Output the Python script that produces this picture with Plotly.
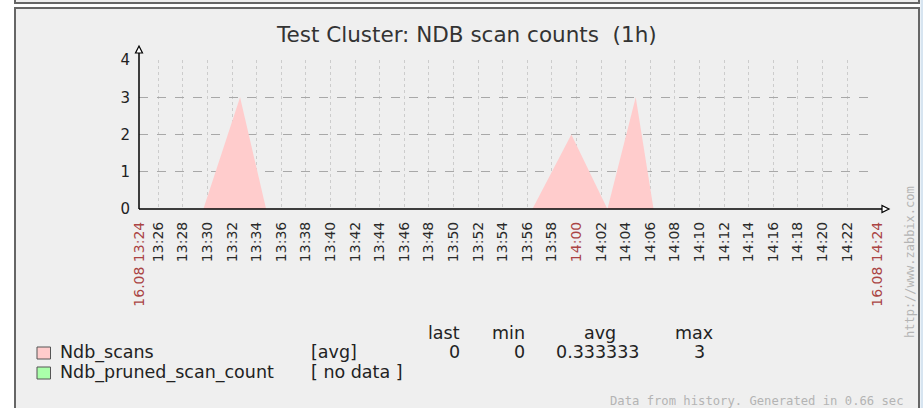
import plotly.graph_objects as go

# ---------------- data ----------------
title_text = "Test Cluster: NDB scan counts  (1h)"
period_start = "2013-08-16 13:24:26"
period_end = "2013-08-16 14:24:26"

scan_times = ["2013-08-16 13:29:40", "2013-08-16 13:32:39", "2013-08-16 13:34:46",
              "2013-08-16 13:56:25", "2013-08-16 13:59:35", "2013-08-16 14:02:31",
              "2013-08-16 14:04:49", "2013-08-16 14:06:16"]
scan_values = [0, 3, 0, 0, 2, 0, 3, 0]

tick_minutes = ["13:26", "13:28", "13:30", "13:32", "13:34", "13:36", "13:38", "13:40",
                "13:42", "13:44", "13:46", "13:48", "13:50", "13:52", "13:54", "13:56",
                "13:58", "14:00", "14:02", "14:04", "14:06", "14:08", "14:10", "14:12",
                "14:14", "14:16", "14:18", "14:20", "14:22"]
edge_labels = ["16.08 13:24", "16.08 14:24"]
main_tick = "14:00"

y_ticks = [0, 1, 2, 3, 4]

series_names = ["Ndb_scans", "Ndb_pruned_scan_count"]
series_colors = ["#ffcccc", "#aaffaa"]
series_func = ["[avg]", "[ no data ]"]
stat_headers = ["last", "min", "avg", "max"]
scan_stats = ["0", "0", "0.333333", "3"]

footer_text = "Data from history. Generated in 0.66 sec"
url_text = "http://www.zabbix.com"

# ---------------- geometry helpers ----------------
W, H = 923, 408
L, R, T, B = 139, 46, 60, 199
PW, PH = W - L - R, H - T - B


def px(x):
    return (x - L) / PW


def py(y):
    return (H - B - y) / PH


RED = "#aa4444"
FONT = "DejaVu Sans"
TXT = "#222222"

tickvals = [period_start] + ["2013-08-16 " + t for t in tick_minutes] + [period_end]
ticktext = ([f'<span style="color:{RED}">{edge_labels[0]}</span>'] +
            [f'<span style="color:{RED}">{t}</span>' if t == main_tick else t for t in tick_minutes] +
            [f'<span style="color:{RED}">{edge_labels[1]}</span>'])

fig = go.Figure()
fig.add_trace(go.Scatter(x=scan_times, y=scan_values, mode="lines", fill="tozeroy",
                         fillcolor=series_colors[0], line=dict(width=0, color=series_colors[0]),
                         name=series_names[0], hoverinfo="x+y"))
fig.add_trace(go.Scatter(x=[], y=[], mode="lines", name=series_names[1],
                         line=dict(color=series_colors[1])))

shapes = []
# previous box (bottom edge visible at top)
shapes.append(dict(type="rect", xref="paper", yref="paper", x0=px(15), x1=px(919), y0=py(-10), y1=py(3),
                   fillcolor="#efefef", line=dict(color="#666666", width=2), layer="below"))
# main box
shapes.append(dict(type="rect", xref="paper", yref="paper", x0=px(15), x1=px(919), y0=py(420), y1=py(8),
                   fillcolor="#efefef", line=dict(color="#666666", width=2), layer="below"))
# right blue strip
shapes.append(dict(type="rect", xref="paper", yref="paper", x0=px(920.5), x1=px(930), y0=py(420), y1=py(-10),
                   fillcolor="#d6e4f0", line=dict(width=0), layer="below"))
# axes
shapes.append(dict(type="line", xref="paper", yref="paper", x0=px(139), x1=px(139), y0=py(209), y1=py(51),
                   line=dict(color="#000000", width=1.5)))
shapes.append(dict(type="line", xref="paper", yref="paper", x0=px(139), x1=px(882), y0=py(209), y1=py(209),
                   line=dict(color="#000000", width=1.5)))
# arrow heads (open triangles)
shapes.append(dict(type="path", xref="paper", yref="paper",
                   path=f"M {px(135.5)} {py(53)} L {px(142.5)} {py(53)} L {px(139)} {py(46)} Z",
                   fillcolor="#ffffff", line=dict(color="#000000", width=1.2)))
shapes.append(dict(type="path", xref="paper", yref="paper",
                   path=f"M {px(882)} {py(205.5)} L {px(882)} {py(212.5)} L {px(889)} {py(209)} Z",
                   fillcolor="#ffffff", line=dict(color="#000000", width=1.2)))
# legend squares
for i, c in enumerate(series_colors):
    y0 = 347 + 20 * i
    shapes.append(dict(type="rect", xref="paper", yref="paper", x0=px(37), x1=px(50.5),
                       y0=py(y0 + 12), y1=py(y0), fillcolor=c, line=dict(color="#555555", width=1)))

ann = []
ann.append(dict(text=title_text, x=px(466), y=py(34), xref="paper", yref="paper", showarrow=False,
                xanchor="center", yanchor="middle", font=dict(family=FONT, size=21.5, color="#333333")))
# legend rows
for i, name in enumerate(series_names):
    yc = 352 + 20 * i
    ann.append(dict(text=name, x=px(58), y=py(yc), xref="paper", yref="paper", showarrow=False,
                    xanchor="left", yanchor="middle", font=dict(family=FONT, size=17.5, color=TXT)))
    ann.append(dict(text=series_func[i], x=px(309), y=py(yc), xref="paper", yref="paper", showarrow=False,
                    xanchor="left", yanchor="middle", font=dict(family=FONT, size=17.5, color=TXT)))
# stats header and values
header_x = [462, 527, 600, 694]
header_anchor = ["right", "right", "center", "center"]
value_x = [462, 527, 642, 707]
for hx, ha, h in zip(header_x, header_anchor, stat_headers):
    ann.append(dict(text=h, x=px(hx), y=py(333), xref="paper", yref="paper", showarrow=False,
                    xanchor=ha, yanchor="middle", font=dict(family=FONT, size=17.5, color=TXT)))
for vx, v in zip(value_x, scan_stats):
    ann.append(dict(text=v, x=px(vx), y=py(352), xref="paper", yref="paper", showarrow=False,
                    xanchor="right", yanchor="middle", font=dict(family=FONT, size=17.5, color=TXT)))
ann.append(dict(text=footer_text, x=px(906), y=py(401), xref="paper", yref="paper", showarrow=False,
                xanchor="right", yanchor="middle",
                font=dict(family="DejaVu Sans Mono", size=12.2, color="#b4b4b4")))
ann.append(dict(text=url_text, x=px(910), y=py(262), xref="paper", yref="paper", showarrow=False,
                xanchor="center", yanchor="middle", textangle=-90,
                font=dict(family="DejaVu Sans Mono", size=12, color="#b4b4b4")))

fig.update_layout(
    width=W, height=H,
    margin=dict(l=L, r=R, t=T, b=B, pad=0),
    paper_bgcolor="#ffffff",
    plot_bgcolor="#ffffff",
    showlegend=False,
    shapes=shapes,
    annotations=ann,
    font=dict(family=FONT, color=TXT),
    xaxis=dict(type="date", range=[period_start, period_end], tickmode="array",
               tickvals=tickvals, ticktext=ticktext, tickangle=-90,
               tickfont=dict(family=FONT, size=14, color="#2a2a2a"),
               showgrid=True, gridcolor="#cccccc", griddash="dot", gridwidth=1,
               ticks="", ticklabelstandoff=9, zeroline=False, showline=False, fixedrange=True),
    yaxis=dict(range=[0, 4], tickmode="array", tickvals=y_ticks,
               tickfont=dict(family=FONT, size=15, color=TXT),
               showgrid=True, gridcolor="#a8a8a8", griddash="dash", gridwidth=1,
               ticks="", ticklabelstandoff=8, zeroline=False, showline=False, fixedrange=True),
)

fig.write_html("out.html", config={"displayModeBar": False},
               post_script="document.body.style.margin='0';document.body.style.overflow='hidden';")
